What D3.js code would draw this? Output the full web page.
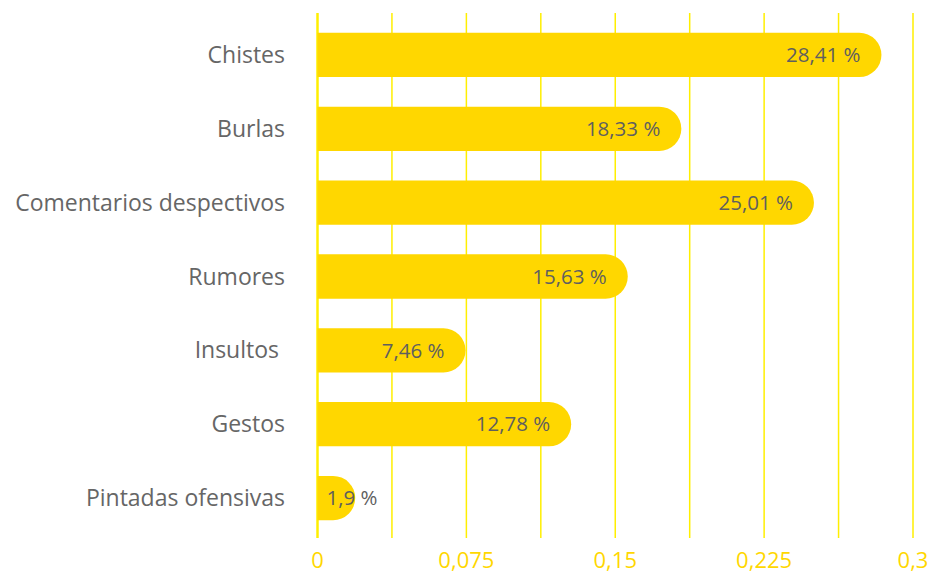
<!DOCTYPE html>
<html lang="es">
<head>
<meta charset="UTF-8" />
<script src="https://d3js.org/d3.v7.min.js"></script>
<style>
  body { margin: 0; background: #fff; }
  text { font-family: "Open Sans", Lato, sans-serif; }
</style>
</head>
<body>
<script>
  const width = 929, height = 574

  // datos
  const categories = ['Chistes', 'Burlas', 'Comentarios despectivos', 'Rumores', 'Insultos ', 'Gestos', 'Pintadas ofensivas']
  const values = [0.2841, 0.1833, 0.2501, 0.1563, 0.0746, 0.1278, 0.019]
  const labels = ['28,41 %', '18,33 %', '25,01 %', '15,63 %', '7,46 %', '12,78 %', '1,9 %']
  const gridTicks = [0, 0.0375, 0.075, 0.1125, 0.15, 0.1875, 0.225, 0.2625, 0.3]
  const tickLabels = ['0', '0,075', '0,15', '0,225', '0,3']
  const tickValues = [0, 0.075, 0.15, 0.225, 0.3]

  const svg = d3.select('body').append('svg').attr('width', width).attr('height', height)

  const x = d3.scaleLinear().domain([0, 0.3]).range([317.5, 913])
  const y = d3.scaleBand().domain(categories).range([18, 535]).paddingInner(0.4).paddingOuter(0.2)
  const bh = y.bandwidth()
  const r = bh / 2

  // rejilla
  svg.selectAll('line.grid').data(gridTicks).enter()
    .append('line')
    .attr('x1', d => x(d)).attr('x2', d => x(d))
    .attr('y1', 13).attr('y2', 538)
    .attr('stroke', '#ffef00')
    .attr('stroke-width', d => d === 0 ? 2.5 : 1.5)

  // barras con extremo redondeado
  const barPath = (v, cat) => {
    const x0 = x(0), x1 = x(v), y0 = y(cat)
    return `M${x0},${y0} H${x1 - r} A${r},${r} 0 0 1 ${x1 - r},${y0 + bh} H${x0} Z`
  }
  svg.selectAll('path.bar').data(categories).enter()
    .append('path')
    .attr('d', (c, i) => barPath(values[i], c))
    .attr('fill', '#ffd700')

  // etiquetas de valor
  svg.selectAll('text.val').data(categories).enter()
    .append('text')
    .attr('y', c => y(c) + bh / 2)
    .attr('dy', '0.35em')
    .attr('font-size', 20.5)
    .attr('fill', '#5f5f5f')
    .text((c, i) => labels[i])
    .each(function (c, i) {
      const w = this.getComputedTextLength()
      const xs = Math.max(x(values[i]) - 21 - w, x(0) + 9)
      d3.select(this).attr('x', xs)
    })

  // categorías
  svg.selectAll('text.cat').data(categories).enter()
    .append('text')
    .attr('x', 285)
    .attr('y', c => y(c) + bh / 2)
    .attr('dy', '0.35em')
    .attr('text-anchor', 'end')
    .attr('font-size', 23)
    .attr('fill', '#666')
    .style('white-space', 'pre')
    .text(c => c)

  // eje x
  svg.selectAll('text.tick').data(tickValues).enter()
    .append('text')
    .attr('x', d => x(d))
    .attr('y', 568)
    .attr('text-anchor', 'middle')
    .attr('font-size', 22)
    .attr('fill', '#ffd700')
    .text((d, i) => tickLabels[i])
</script>
</body>
</html>
